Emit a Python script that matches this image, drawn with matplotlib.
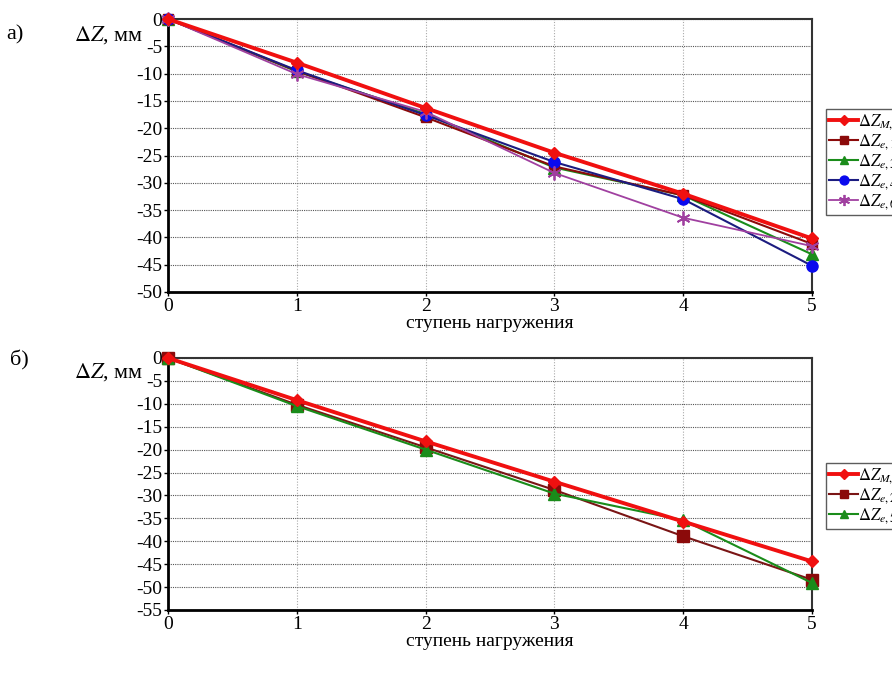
import numpy as np
import matplotlib
matplotlib.use("Agg")
import matplotlib.pyplot as plt

plt.rcParams['font.family'] = ['Liberation Serif', 'DejaVu Serif']
plt.rcParams['mathtext.fontset'] = 'stix'
plt.rcParams['axes.unicode_minus'] = False

steps = [0, 1, 2, 3, 4, 5]

# panel a)
a_model = [0, -8.0, -16.3, -24.5, -32.0, -40.2]
a_e1 = [0, -9.5, -18.0, -27.0, -32.3, -41.2]
a_e3 = [0, -9.6, -17.4, -27.2, -32.3, -43.1]
a_e4 = [0, -9.4, -17.6, -26.2, -33.0, -45.2]
a_e6 = [0, -10.1, -17.0, -28.2, -36.4, -41.6]

# panel б)
b_model = [0, -9.2, -18.2, -27.0, -35.7, -44.4]
b_e2 = [0, -10.2, -19.5, -28.8, -38.9, -48.4]
b_e5 = [0, -10.5, -20.0, -29.6, -35.4, -49.1]

fig = plt.figure(figsize=(8.92, 6.77), dpi=100)

def styleAxes(ax, ymin):
  ax.set_xlim(0, 5)
  ax.set_ylim(ymin, 0)
  ax.set_xticks(steps)
  ax.set_yticks(np.arange(ymin, 1, 5))
  ax.grid(True, axis='y', linestyle=(0, (1, 1)), color='#555555', lw=0.8)
  ax.grid(True, axis='x', linestyle=(0, (1, 1.5)), color='#aaaaaa', lw=0.8)
  for side in ('left', 'bottom'):
    ax.spines[side].set_linewidth(2.0)
    ax.spines[side].set_color('black')
  for side in ('top', 'right'):
    ax.spines[side].set_linewidth(1.5)
    ax.spines[side].set_color('#333333')
  ax.tick_params(axis='both', labelsize=14, direction='out', length=3,
                 width=1, pad=1)
  ax.tick_params(axis='x', pad=1)
  ax.set_xlabel("ступень нагружения", fontsize=14, labelpad=0)

def addLegend(ax, top_px):
  ax.legend(loc='upper left', bbox_to_anchor=(826/892, 1-top_px/677),
            bbox_transform=fig.transFigure, borderaxespad=0, fontsize=12,
            handlelength=1.7, handletextpad=0.05, labelspacing=0.0,
            frameon=True, fancybox=False, edgecolor='#333333',
            borderpad=0.2, markerscale=0.8)

red_kw = dict(color='#f01010', lw=2.8, marker='D', ms=6, zorder=6)

ax1 = fig.add_axes([168/892, 1-292/677, 644/892, 273/677])
ax1.plot(steps, a_model, label=r'$\Delta Z_{M,1}$', clip_on=False, **red_kw)
ax1.plot(steps, a_e1, label=r'$\Delta Z_{e,1}$', color='#8b0a0a', lw=1.5,
         marker='s', ms=7, clip_on=False, zorder=4)
ax1.plot(steps, a_e3, label=r'$\Delta Z_{e,3}$', color='#1a8c1a', lw=1.5,
         marker='^', ms=8, clip_on=False, zorder=3)
ax1.plot(steps, a_e4, label=r'$\Delta Z_{e,4}$', color='#1c1c80', lw=1.5,
         marker='o', ms=8, mfc='#0a0aee', mec='#0a0aee', clip_on=False,
         zorder=5)
ax1.plot(steps, a_e6, label=r'$\Delta Z_{e,6}$', color='#a040a0', lw=1.3,
         marker=(6, 2, 0), ms=10, mew=1.3, clip_on=False, zorder=5)
styleAxes(ax1, -50)
addLegend(ax1, 109)

ax2 = fig.add_axes([168/892, 1-610/677, 644/892, 252/677])
ax2.plot(steps, b_model, label=r'$\Delta Z_{M,2}$', clip_on=False, **red_kw)
ax2.plot(steps, b_e2, label=r'$\Delta Z_{e,2}$', color='#7a1515', lw=1.5,
         marker='s', ms=8, mfc='#8b0a0a', mec='#8b0a0a', clip_on=False,
         zorder=4)
ax2.plot(steps, b_e5, label=r'$\Delta Z_{e,5}$', color='#1a8c1a', lw=1.5,
         marker='^', ms=8, clip_on=False, zorder=5)
styleAxes(ax2, -55)
addLegend(ax2, 463)

fig.text(6/892, 1-35/677, "а)", fontsize=16, va='center')
fig.text(74/892, 1-35/677, r"$\Delta Z$, мм", fontsize=16, va='center')
fig.text(10/892, 1-360/677, "б)", fontsize=16, va='center')
fig.text(74/892, 1-372/677, r"$\Delta Z$, мм", fontsize=16, va='center')

fig.savefig("out.png", dpi=100)
